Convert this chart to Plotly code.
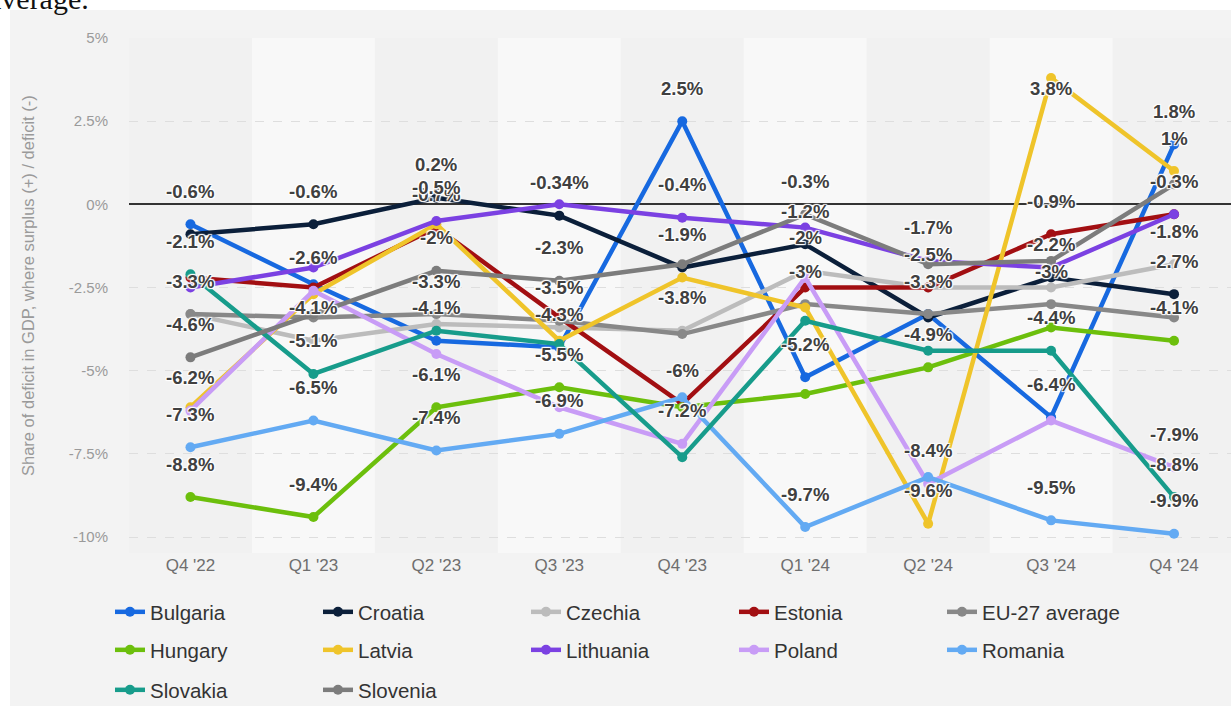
import plotly.graph_objects as go

# Quarterly general government surplus (+) / deficit (-) as a share of GDP, in percent
quarters = ["Q4 '22", "Q1 '23", "Q2 '23", "Q3 '23", "Q4 '23", "Q1 '24", "Q2 '24", "Q3 '24", "Q4 '24"]

bulgaria = [-0.6, -2.4, -4.1, -4.3, 2.5, -5.2, -3.3, -6.4, 1.8]
croatia = [-0.9, -0.6, 0.2, -0.34, -1.9, -1.2, -3.4, -2.2, -2.7]
czechia = [-3.3, -4.1, -3.6, -3.7, -3.8, -2.0, -2.5, -2.5, -1.8]
estonia = [-2.2, -2.5, -0.7, -3.4, -6.0, -2.5, -2.5, -0.9, -0.3]
eu27_average = [-3.3, -3.4, -3.3, -3.5, -3.9, -3.0, -3.3, -3.0, -3.4]
hungary = [-8.8, -9.4, -6.1, -5.5, -6.1, -5.7, -4.9, -3.7, -4.1]
latvia = [-6.1, -2.7, -0.6, -4.1, -2.2, -3.1, -9.6, 3.8, 1.0]
lithuania = [-2.5, -1.9, -0.5, 0.0, -0.4, -0.7, -1.7, -1.9, -0.3]
poland = [-6.2, -2.6, -4.5, -6.1, -7.2, -2.2, -8.4, -6.5, -7.9]
romania = [-7.3, -6.5, -7.4, -6.9, -5.8, -9.7, -8.2, -9.5, -9.9]
slovakia = [-2.1, -5.1, -3.8, -4.2, -7.6, -3.5, -4.4, -4.4, -8.8]
slovenia = [-4.6, -3.3, -2.0, -2.3, -1.8, -0.3, -1.8, -1.7, 0.6]

# Quarters (by index) whose value label is shown for each country
labelled = {
    "Bulgaria": [0, 2, 3, 4, 5, 6, 7, 8],
    "Croatia": [1, 2, 3, 4, 5, 7, 8],
    "Czechia": [0, 1, 4, 5, 6, 8],
    "Estonia": [2, 4, 7],
    "EU-27 average": [2, 3, 5, 7],
    "Hungary": [0, 1, 2, 3, 6, 8],
    "Latvia": [6, 7, 8],
    "Lithuania": [2, 4, 6, 8],
    "Poland": [0, 1, 4, 6, 8],
    "Romania": [0, 1, 2, 3, 5, 7, 8],
    "Slovakia": [0, 1, 7, 8],
    "Slovenia": [0, 2, 3, 5],
}

y_tickvals = [5, 2.5, 0, -2.5, -5, -7.5, -10]
y_ticktext = ["5%", "2.5%", "0%", "-2.5%", "-5%", "-7.5%", "-10%"]

series = [
    ("Bulgaria", bulgaria, "#1769e0", "legend"),
    ("Croatia", croatia, "#0b1f3a", "legend"),
    ("Czechia", czechia, "#bcbcbc", "legend"),
    ("Estonia", estonia, "#a20f12", "legend"),
    ("EU-27 average", eu27_average, "#888888", "legend"),
    ("Hungary", hungary, "#6cbf0c", "legend2"),
    ("Latvia", latvia, "#efc42a", "legend2"),
    ("Lithuania", lithuania, "#7b41e2", "legend2"),
    ("Poland", poland, "#c89cf6", "legend2"),
    ("Romania", romania, "#63aaf3", "legend2"),
    ("Slovakia", slovakia, "#179c8b", "legend3"),
    ("Slovenia", slovenia, "#7c7c7c", "legend3"),
]

W, H = 1231, 706
L, T, B = 129, 38, 153
plot_w = W - L
plot_h = H - T - B
y_top = 5.0
px_per_unit = (537 - 38) / 15.0
y_bottom = y_top - plot_h / px_per_unit


def px_x(px):
    return (px - L) / plot_w


def px_y(py):
    return (H - B - py) / plot_h


FONT = "Liberation Sans, Arial, Helvetica, sans-serif"
HALO = "1px 1px 1px #fff, -1px -1px 1px #fff, 1px -1px 1px #fff, -1px 1px 1px #fff, 0px 0px 2px #fff"

fig = go.Figure()
annotations = []

for name, vals, color, legend_id in series:
    fig.add_trace(go.Scatter(
        x=quarters, y=vals, name=name, mode="lines+markers",
        line=dict(color=color, width=4.5),
        marker=dict(color=color, size=10),
        legend=legend_id, hoverinfo="skip", cliponaxis=False,
    ))
    for i in labelled[name]:
        v = vals[i]
        shift = 33 if v + 33 / px_per_unit < y_top - 0.5 else -11
        annotations.append(dict(
            x=quarters[i], y=v, xref="x", yref="y", text=f"{v:g}%",
            showarrow=False, yshift=shift,
            font=dict(family=FONT, size=18.5, color="#404040", weight="bold", shadow=HALO),
        ))

# Axis title, placed by hand
annotations.append(dict(
    x=px_x(28), y=px_y(286), xref="paper", yref="paper",
    text="Share of deficit in GDP, where surplus (+) / deficit (-)",
    textangle=-90, showarrow=False, xanchor="center", yanchor="middle",
    font=dict(family=FONT, size=16.5, color="#9a9a9a"),
))
# Tail of the heading sitting above the chart
annotations.append(dict(
    x=px_x(-14), y=px_y(17), xref="paper", yref="paper", text="average.",
    showarrow=False, xanchor="left", yanchor="bottom",
    font=dict(family="Liberation Serif, Times New Roman, serif", size=30, color="#111111"),
))

shapes = []
# Alternating column bands
for i in range(len(quarters)):
    if i % 2 == 1:
        shapes.append(dict(type="rect", xref="x", yref="paper", x0=i - 0.5, x1=i + 0.5,
                           y0=0, y1=1, fillcolor="#f8f8f8", line=dict(width=0), layer="below"))
# White page strips around the chart card
shapes.append(dict(type="rect", xref="paper", yref="paper", x0=px_x(0), x1=px_x(W),
                   y0=px_y(10), y1=px_y(0), fillcolor="#ffffff", line=dict(width=0), layer="below"))
shapes.append(dict(type="rect", xref="paper", yref="paper", x0=px_x(0), x1=px_x(10),
                   y0=px_y(H), y1=px_y(0), fillcolor="#ffffff", line=dict(width=0), layer="below"))

legend_style = dict(
    orientation="h", xanchor="left", yanchor="middle", x=px_x(110),
    entrywidth=163, entrywidthmode="pixels", itemwidth=30,
    bgcolor="rgba(0,0,0,0)", font=dict(family=FONT, size=20.5, color="#333333"),
    traceorder="normal",
)

fig.update_layout(
    width=W, height=H,
    margin=dict(l=L, r=0, t=T, b=B, autoexpand=False),
    paper_bgcolor="#f3f3f3",
    plot_bgcolor="#f1f1f1",
    font=dict(family=FONT),
    showlegend=True,
    legend=dict(legend_style, y=px_y(612)),
    legend2=dict(legend_style, y=px_y(650)),
    legend3=dict(legend_style, y=px_y(690)),
    xaxis=dict(
        type="category", range=[-0.5, (W - 190) / 123.0], showgrid=False, zeroline=False,
        showline=False, ticks="", tickfont=dict(family=FONT, size=17, color="#6e6e6e"),
        fixedrange=True,
    ),
    yaxis=dict(
        range=[y_bottom, y_top], tickvals=y_tickvals, ticktext=y_ticktext,
        showgrid=True, gridcolor="#dedede", gridwidth=1, griddash="dash",
        zeroline=True, zerolinecolor="#333333", zerolinewidth=1.5,
        showline=False, ticks="", ticklabelstandoff=20,
        tickfont=dict(family=FONT, size=15, color="#9a9a9a"), fixedrange=True,
    ),
    annotations=annotations,
    shapes=shapes,
)

fig.write_html("out.html")
